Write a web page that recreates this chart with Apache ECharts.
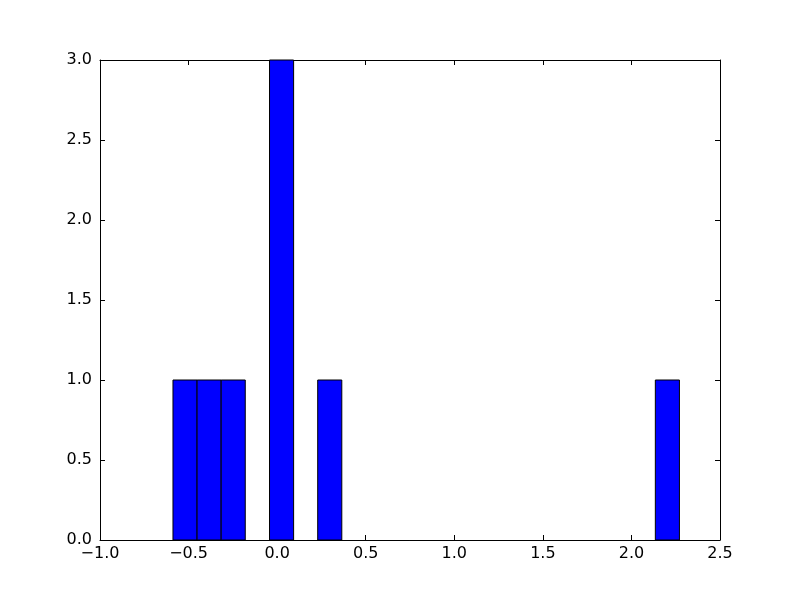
<!DOCTYPE html>
<html>
<head>
<meta charset="utf-8">
<script src="https://cdn.jsdelivr.net/npm/echarts@6/dist/echarts.min.js"></script>
<style>html,body{margin:0;padding:0;background:#fff}#c{width:800px;height:600px}</style>
</head>
<body>
<div id="c"></div>
<script>
// Histogram bins (non-empty ones): left edge, right edge, count
const binLeft  = [-0.588, -0.452, -0.316, -0.043, 0.229, 2.135];
const binRight = [-0.452, -0.316, -0.180,  0.093, 0.365, 2.271];
const counts   = [1, 1, 1, 3, 1, 1];
const xTicks = [-1.0, -0.5, 0.0, 0.5, 1.0, 1.5, 2.0, 2.5];
const yTicks = [0.0, 0.5, 1.0, 1.5, 2.0, 2.5, 3.0];

const data = binLeft.map((l, i) => [l, binRight[i], counts[i]]);
const fmt = v => (v < 0 ? '\u2212' : '') + Math.abs(v).toFixed(1);
const font = { fontFamily: 'DejaVu Sans', fontSize: 16, color: '#000' };

const baseX = {
  type: 'value', min: xTicks[0], max: xTicks[xTicks.length - 1], interval: 0.5,
  axisLine: { show: true, onZero: false, lineStyle: { color: '#000', width: 1 } },
  axisTick: { show: true, inside: true, length: 5, lineStyle: { color: '#000' } },
  splitLine: { show: false }
};
const baseY = {
  type: 'value', min: yTicks[0], max: yTicks[yTicks.length - 1], interval: 0.5,
  axisLine: { show: true, onZero: false, lineStyle: { color: '#000', width: 1 } },
  axisTick: { show: true, inside: true, length: 5, lineStyle: { color: '#000' } },
  splitLine: { show: false }
};

const chart = echarts.init(document.getElementById('c'), null, { renderer: 'canvas' });
chart.setOption({
  animation: false,
  grid: { left: 100, right: 80, top: 60, bottom: 60, containLabel: false },
  xAxis: [
    Object.assign({}, baseX, { position: 'bottom',
      axisLabel: Object.assign({ margin: 6, formatter: fmt }, font) }),
    Object.assign({}, baseX, { position: 'top', axisLabel: { show: false } })
  ],
  yAxis: [
    Object.assign({}, baseY, { position: 'left',
      axisLabel: Object.assign({ margin: 8, formatter: fmt }, font) }),
    Object.assign({}, baseY, { position: 'right', axisLabel: { show: false } })
  ],
  series: [{
    type: 'custom',
    xAxisIndex: 0, yAxisIndex: 0,
    data: data,
    renderItem: function (params, api) {
      const p0 = api.coord([api.value(0), 0]);
      const p1 = api.coord([api.value(1), api.value(2)]);
      return {
        type: 'rect',
        shape: { x: p0[0], y: p1[1], width: p1[0] - p0[0], height: p0[1] - p1[1] },
        style: { fill: '#0000ff', stroke: '#000', lineWidth: 1 }
      };
    }
  }]
});
</script>
</body>
</html>
